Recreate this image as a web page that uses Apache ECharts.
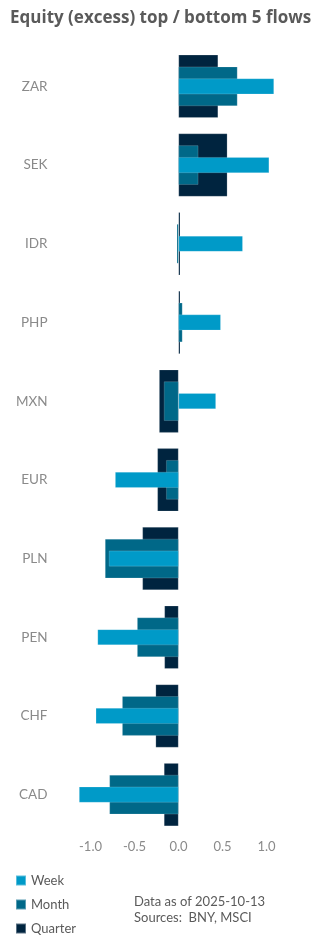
<!DOCTYPE html>
<html><head><meta charset="utf-8">
<script src="https://cdn.jsdelivr.net/npm/echarts@6/dist/echarts.min.js"></script>
<style>html,body{margin:0;padding:0;background:#fff}#c{width:316px;height:948px}</style>
</head><body><div id="c"></div>
<script>
const categories = ["ZAR","SEK","IDR","PHP","MXN","EUR","PLN","PEN","CHF","CAD"];
const weekValues = [1.085, 1.03, 0.73, 0.48, 0.425, -0.72, -0.79, -0.92, -0.94, -1.13];
const monthValues = [0.67, 0.225, -0.02, 0.045, -0.165, -0.14, -0.835, -0.47, -0.64, -0.785];
const quarterValues = [0.45, 0.555, 0.02, 0.02, -0.22, -0.24, -0.41, -0.16, -0.26, -0.165];
const tickLabels = ["-1.0","-0.5","0.0","0.5","1.0"];

const FONT = "Lato, 'Open Sans', sans-serif";
const chart = echarts.init(document.getElementById('c'), null, {renderer:'canvas'});
function catAxis(show){
  return {type:'category', data:categories, inverse:true, show:show,
    axisLine:{show:false}, axisTick:{show:false},
    axisLabel:{show:show, color:'#8a8a8a', fontSize:13.5, fontFamily:FONT, margin:21}};
}
chart.setOption({
  animation:false,
  title:{text:'Equity (excess) top / bottom 5 flows', left:5, top:5,
    textStyle:{fontSize:17, fontWeight:'bold', color:'#5a5a5a', fontFamily:"'Open Sans', sans-serif"}},
  grid:{left:68.5, right:27.5, top:47, bottom:114, containLabel:false},
  xAxis:{type:'value', min:-1.25, max:1.25, interval:0.25,
    splitLine:{show:false}, axisLine:{show:false}, axisTick:{show:false},
    axisLabel:{color:'#8a8a8a', fontSize:13, fontFamily:FONT, margin:6,
      showMinLabel:false, showMaxLabel:false,
      formatter:function(v){
        const i = Math.round((v+1)*2);
        if (Math.abs(v*2-Math.round(v*2))<1e-6 && i>=0 && i<tickLabels.length) return tickLabels[i];
        return '';
      }}},
  yAxis:[catAxis(true), catAxis(false), catAxis(false)],
  legend:{orient:'vertical', left:10, top:869, itemWidth:10, itemHeight:10, itemGap:11,
    icon:'rect', textStyle:{color:'#5a5a5a', fontSize:13, fontFamily:FONT},
    data:['Week','Month','Quarter']},
  graphic:[
    {type:'text', left:134, top:894, style:{text:'Data as of 2025-10-13\nSources:  BNY, MSCI', fill:'#5a5a5a', fontSize:13, fontFamily:FONT, lineHeight:16}}
  ],
  series:[
    {name:'Quarter', type:'bar', yAxisIndex:2, data:quarterValues, barWidth:'80%', itemStyle:{color:'#00243f', borderColor:'rgba(255,255,255,0.35)', borderWidth:0.5}},
    {name:'Month', type:'bar', yAxisIndex:1, data:monthValues, barWidth:'50%', itemStyle:{color:'#006888', borderColor:'rgba(255,255,255,0.35)', borderWidth:0.5}},
    {name:'Week', type:'bar', yAxisIndex:0, data:weekValues, barWidth:'20%', itemStyle:{color:'#009ac8', borderColor:'rgba(255,255,255,0.35)', borderWidth:0.5}}
  ]
});
</script></body></html>
